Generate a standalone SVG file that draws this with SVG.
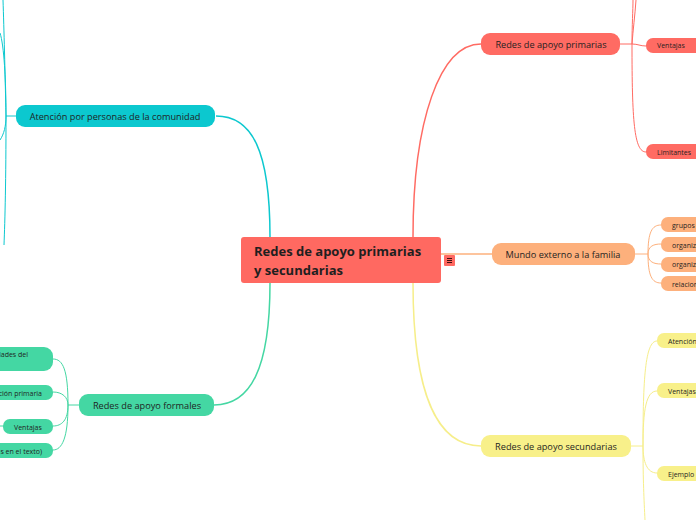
<svg xmlns="http://www.w3.org/2000/svg" width="696" height="520" viewBox="0 0 696 520">
<style>
text{font-family:"Open Sans","Noto Sans","DejaVu Sans",sans-serif;fill:#1f1f1f}
.main{font-size:9.2px;text-anchor:middle}
.sub{font-size:7px}
.c{fill:none;stroke-width:1.5}
.t{fill:none;stroke-width:1}
.red{stroke:#FF6B63}.cy{stroke:#0CC8CF}.gr{stroke:#44D7A3}.or{stroke:#FDB07C}.ye{stroke:#F6EE8A}
</style>
<rect width="696" height="520" fill="#ffffff"/>
<g id="connectors">
<path class="c red" d="M413,237 C413,120 440,44 481,44"/>
<path class="c cy" d="M270,237 C270,150 252,116 216,116"/>
<path class="c gr" d="M270,283 C270,370 250,405 214,405"/>
<path class="c ye" d="M413,283 C413,400 440,446 481,446"/>
<path class="c or" d="M441,254 L492,254"/>
<path class="t red" d="M620,44 L632,44"/>
<path class="t red" d="M632,44 C632,25 633,10 633,0"/>
<path class="t red" d="M632,44 C638,44 640,46 646,46"/>
<path class="t red" d="M632,44 C632,120 634,152 646,152"/>
<path class="t red" d="M632,44 C633,30 635,15 636,0"/>
<path class="t cy" d="M16,116 L6,116"/>
<path class="t cy" d="M6,116 C5,70 4,30 3,0"/>
<path class="t cy" d="M6,116 C6,80 4,45 0,33"/>
<path class="t cy" d="M6,116 C6,126 4,134 0,140"/>
<path class="t cy" d="M6,116 C6,180 5,220 4,245"/>
<path class="t or" d="M635,254 L648,254"/>
<path class="t or" d="M648,254 C648,232 652,225 661,225"/>
<path class="t or" d="M648,254 C648,246 654,244 661,244"/>
<path class="t or" d="M648,254 C648,262 654,264 661,264"/>
<path class="t or" d="M648,254 C648,276 652,283 661,283"/>
<path class="t ye" d="M631,446 L643,446"/>
<path class="t ye" d="M643,446 C643,380 645,341 657,341"/>
<path class="t ye" d="M643,446 C643,410 646,391 657,391"/>
<path class="t ye" d="M643,446 C643,462 647,473 657,473"/>
<path class="t ye" d="M643,446 C643,480 644,500 645,520"/>
<path class="t gr" d="M79,405 L68,405"/>
<path class="t gr" d="M68,405 C68,370 63,359 53,359"/>
<path class="t gr" d="M68,405 C68,397 62,392 53,392"/>
<path class="t gr" d="M68,405 C68,420 62,426 53,426"/>
<path class="t gr" d="M68,405 C68,438 62,450 53,450"/>
<path class="t gr" d="M0,426 L4,426"/>
</g>
<g id="central">
<rect x="241" y="237" width="200" height="46" rx="3" fill="#FF6961"/>
<text x="254" y="256" style="font-size:13px;font-weight:bold">Redes de apoyo primarias</text>
<text x="254" y="275" style="font-size:13px;font-weight:bold">y secundarias</text>
</g>
<g id="menu-icon">
<rect x="444" y="255" width="11" height="11" rx="1" fill="#FF6961"/>
<path d="M447,258.5 H452 M447,260.5 H452 M447,262.5 H452" stroke="#3a1010" stroke-width="1"/>
</g>
<g id="n-primarias">
<rect x="481" y="33" width="139" height="22" rx="9" fill="#FF6B63"/>
<text class="main" x="551" y="48">Redes de apoyo primarias</text>
</g>
<g id="n-primarias-ventajas">
<rect x="646" y="38" width="60" height="15" rx="7" fill="#FF6B63"/>
<text class="sub" x="657" y="48">Ventajas</text>
</g>
<g id="n-primarias-limitantes">
<rect x="646" y="144" width="60" height="15" rx="7" fill="#FF6B63"/>
<text class="sub" x="657" y="155">Limitantes</text>
</g>
<g id="n-comunidad">
<rect x="16" y="105" width="199" height="22" rx="9" fill="#0CC8CF"/>
<text class="main" x="115" y="120">Atención por personas de la comunidad</text>
</g>
<g id="n-externo">
<rect x="492" y="243" width="143" height="22" rx="9" fill="#FDB07C"/>
<text class="main" x="563" y="258">Mundo externo a la familia</text>
</g>
<g id="n-grupos">
<rect x="661" y="217" width="60" height="15" rx="7" fill="#FDB07C"/>
<text class="sub" x="672" y="227.5">grupos</text>
</g>
<g id="n-org1">
<rect x="661" y="237" width="60" height="15" rx="7" fill="#FDB07C"/>
<text class="sub" x="672" y="247.5">organizaciones</text>
</g>
<g id="n-org2">
<rect x="661" y="257" width="60" height="15" rx="7" fill="#FDB07C"/>
<text class="sub" x="672" y="267">organizaciones</text>
</g>
<g id="n-relaciones">
<rect x="661" y="276" width="60" height="15" rx="7" fill="#FDB07C"/>
<text class="sub" x="672" y="286.5">relaciones</text>
</g>
<g id="n-secundarias">
<rect x="481" y="435" width="150" height="22" rx="9" fill="#F8F08A"/>
<text class="main" x="556" y="450">Redes de apoyo secundarias</text>
</g>
<g id="n-sec-atencion">
<rect x="657" y="333" width="60" height="15" rx="7" fill="#F8F08A"/>
<text class="sub" x="668" y="343.5">Atención</text>
</g>
<g id="n-sec-ventajas">
<rect x="657" y="383" width="60" height="15" rx="7" fill="#F8F08A"/>
<text class="sub" x="668" y="393.5">Ventajas</text>
</g>
<g id="n-sec-ejemplo">
<rect x="657" y="466" width="60" height="15" rx="7" fill="#F8F08A"/>
<text class="sub" x="668" y="476.5">Ejemplo</text>
</g>
<g id="n-formales">
<rect x="79" y="394" width="135" height="22" rx="9" fill="#44D7A3"/>
<text class="main" x="147" y="409">Redes de apoyo formales</text>
</g>
<g id="n-form-necesidades">
<rect x="-60" y="347" width="113" height="24" rx="9" fill="#44D7A3"/>
<text class="sub" x="28" y="357" text-anchor="end">Necesidades del</text>
</g>
<g id="n-form-atencion">
<rect x="-60" y="385" width="113" height="15" rx="7" fill="#44D7A3"/>
<text class="sub" x="42" y="395.5" text-anchor="end">Atención primaria</text>
</g>
<g id="n-form-ventajas">
<rect x="3" y="419" width="50" height="15" rx="7" fill="#44D7A3"/>
<text class="sub" x="14" y="429.5">Ventajas</text>
</g>
<g id="n-form-texto">
<rect x="-60" y="443" width="113" height="15" rx="7" fill="#44D7A3"/>
<text class="sub" x="42" y="453.5" text-anchor="end">(mencionadas en el texto)</text>
</g>
</svg>
